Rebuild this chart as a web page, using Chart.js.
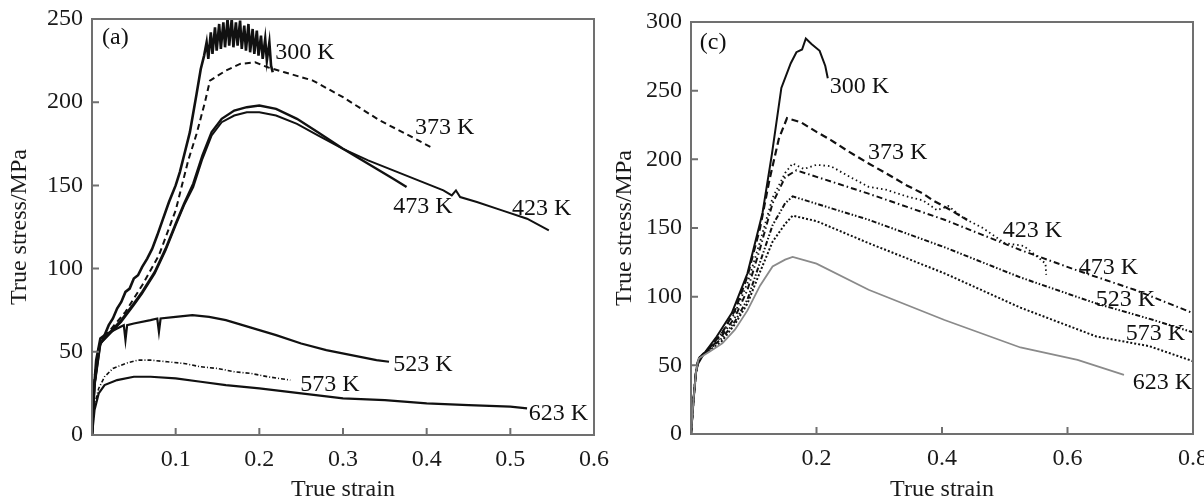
<!DOCTYPE html>
<html>
<head>
<meta charset="utf-8">
<script src="https://cdn.jsdelivr.net/npm/chart.js@4.4.1/dist/chart.umd.min.js"></script>
<style>
html,body{margin:0;padding:0;background:#fff;}
#wrap{position:relative;width:1204px;height:502px;overflow:hidden;}
canvas{position:absolute;top:0;}
</style>
</head>
<body>
<div id="wrap">
  <canvas id="chartA" width="640" height="502" style="left:0"></canvas>
  <canvas id="chartC" width="602" height="502" style="left:602px"></canvas>
</div>
<script>
// ---------- panel (a) ----------
const ticksAX=[0.1,0.2,0.3,0.4,0.5,0.6];
const ticksAY=[0,50,100,150,200,250];

// 300 K is a noisy band, typed as a zigzag
const strainA300=[0,0.002,0.005,0.01,0.015,0.02,0.025,0.03,0.035,0.04,0.045,0.05,0.055,0.06,0.066,0.072,0.078,0.085,0.092,0.1,0.105,0.11,0.117,0.125,0.13,0.134,
  0.137,0.139,0.142,0.144,0.147,0.149,0.152,0.154,0.157,0.159,0.162,0.164,0.167,0.169,0.172,0.174,0.177,0.179,0.182,0.184,0.187,0.189,0.192,0.194,0.197,0.199,0.202,0.204,0.207,0.209,0.212,0.214,0.216];
const stressA300=[0,25,45,58,60,66,70,76,80,86,88,94,96,101,106,112,120,130,140,150,158,168,182,205,220,228,
  236,226,242,229,245,231,247,232,248,233,250,234,250,233,248,234,249,232,246,231,247,230,244,229,243,228,240,226,238,225,236,222,218];

const strainA373=[0,0.003,0.01,0.02,0.04,0.06,0.08,0.1,0.115,0.125,0.135,0.141,0.16,0.177,0.195,0.21,0.23,0.264,0.3,0.344,0.375,0.405];
const stressA373=[0,35,56,62,74,90,108,135,165,181,200,213,219,223,224,221,218,213,203,189,181,173];

const strainA423=[0,0.003,0.01,0.02,0.035,0.05,0.06,0.075,0.088,0.1,0.11,0.121,0.132,0.143,0.155,0.17,0.185,0.2,0.22,0.245,0.27,0.3,0.33,0.36,0.39,0.42,0.43,0.435,0.44,0.46,0.49,0.52,0.546];
const stressA423=[0,30,55,60,68,78,85,97,111,126,138,149,166,180,188,192,194,194,192,187,180,172,165,159,153,147,144,147,143,140,135,130,123];

const strainA473=[0,0.003,0.01,0.02,0.035,0.05,0.06,0.075,0.088,0.1,0.11,0.121,0.132,0.143,0.155,0.17,0.185,0.2,0.22,0.245,0.27,0.3,0.32,0.34,0.36,0.376];
const stressA473=[0,30,55,61,69,79,86,98,112,127,139,151,168,182,190,195,197,198,196,190,182,172,166,160,154,149];

const strainA523=[0,0.003,0.008,0.015,0.03,0.038,0.04,0.042,0.05,0.07,0.078,0.08,0.082,0.1,0.12,0.14,0.16,0.18,0.2,0.22,0.25,0.28,0.31,0.34,0.355];
const stressA523=[0,30,52,60,64,66,57,66,67,69,70,62,70,71,72,71,69,66,63,60,55,51,48,45,44];

const strainA573=[0,0.003,0.008,0.015,0.025,0.04,0.055,0.07,0.09,0.11,0.13,0.15,0.17,0.19,0.21,0.237];
const stressA573=[0,18,28,35,40,43,45,45,44,43,41,40,38,37,35,33];

const strainA623=[0,0.003,0.008,0.015,0.03,0.05,0.07,0.1,0.13,0.16,0.2,0.25,0.3,0.35,0.4,0.45,0.5,0.52];
const stressA623=[0,15,25,30,33,35,35,34,32,30,28,25,22,21,19,18,17,16];

const labelTextA=["(a)","300 K","373 K","473 K","423 K","523 K","573 K","623 K"];
const labelXA=[0.012,0.219,0.386,0.36,0.502,0.36,0.249,0.522];
const labelYA=[239,230,184.5,137,136,42,30,13];

// ---------- panel (c) ----------
const ticksCX=[0.2,0.4,0.6,0.8];
const ticksCY=[0,50,100,150,200,250,300];

const strainC300=[0,0.004,0.008,0.011,0.02,0.041,0.065,0.09,0.114,0.129,0.144,0.159,0.168,0.177,0.183,0.192,0.205,0.214,0.218];
const stressC300=[0,25,45,51,58,71,88,117,161,204,252,270,278,280,288,284,279,268,259];

const strainC373=[0,0.004,0.008,0.012,0.03,0.05,0.07,0.09,0.11,0.125,0.14,0.153,0.175,0.2,0.223,0.25,0.283,0.31,0.344,0.37,0.386,0.41,0.44];
const stressC373=[0,25,45,55,63,74,90,115,150,185,215,230,227,220,214,206,197,190,181,175,170,164,156];

const strainC423=[0,0.004,0.008,0.012,0.03,0.05,0.07,0.09,0.11,0.13,0.15,0.162,0.18,0.2,0.223,0.25,0.283,0.31,0.344,0.37,0.392,0.41,0.435,0.465,0.5,0.53,0.555,0.565,0.566];
const stressC423=[0,25,45,55,63,74,88,110,140,172,190,197,193,196,195,188,180,178,173,170,163,166,157,150,139,137,128,124,116];

const strainC473=[0,0.004,0.008,0.012,0.03,0.05,0.07,0.09,0.11,0.13,0.15,0.168,0.283,0.404,0.525,0.616,0.707,0.8];
const stressC473=[0,25,45,55,62,72,85,105,135,168,187,192,175,156,134,119,105,88];

const strainC523=[0,0.004,0.008,0.012,0.03,0.05,0.07,0.09,0.11,0.13,0.15,0.162,0.283,0.404,0.525,0.646,0.737,0.8];
const stressC523=[0,25,45,55,62,70,82,98,125,152,168,173,156,136,114,95,83,74];

const strainC573=[0,0.004,0.008,0.012,0.03,0.05,0.07,0.09,0.11,0.13,0.15,0.162,0.2,0.283,0.404,0.525,0.646,0.73,0.8];
const stressC573=[0,25,45,55,61,68,80,95,118,140,153,159,155,139,117,92,71,64,53];

const strainC623=[0,0.004,0.008,0.012,0.03,0.05,0.07,0.09,0.11,0.13,0.15,0.162,0.2,0.283,0.404,0.525,0.616,0.69];
const stressC623=[0,25,45,55,60,66,76,90,108,122,127,129,124,105,83,63,54,43];

const labelTextC=["(c)","300 K","373 K","423 K","473 K","523 K","573 K","623 K"];
const labelXC=[0.014,0.221,0.282,0.497,0.618,0.645,0.693,0.704];
const labelYC=[285,252.7,205,148,121,98,73,37];

Chart.defaults.font.family='"Liberation Serif","Times New Roman",serif';
Chart.defaults.color='#1a1a1a';

function pts(xs,ys){ return xs.map((x,i)=>({x:x,y:ys[i]})); }
function line(xs,ys,opt){
  return Object.assign({data:pts(xs,ys),showLine:true,pointRadius:0,borderColor:'#111',borderWidth:2,tension:0,fill:false},opt||{});
}

// frame, inward ticks and curve labels
function framePlugin(texts,xs,ys){
  return {
    id:'frame',
    afterDatasetsDraw(chart){
      const {ctx,chartArea:a,scales:{x,y}}=chart;
      ctx.save();
      ctx.strokeStyle='#707070'; ctx.lineWidth=2;
      ctx.strokeRect(a.left,a.top,a.right-a.left,a.bottom-a.top);
      ctx.beginPath();
      x.ticks.forEach(t=>{const px=x.getPixelForValue(t.value); ctx.moveTo(px,a.bottom); ctx.lineTo(px,a.bottom-7);});
      y.ticks.forEach(t=>{const py=y.getPixelForValue(t.value); ctx.moveTo(a.left,py); ctx.lineTo(a.left+7,py);});
      ctx.stroke();
      ctx.fillStyle='#111'; ctx.font='24px "Liberation Serif"'; ctx.textBaseline='middle'; ctx.textAlign='left';
      texts.forEach((t,i)=>ctx.fillText(t,x.getPixelForValue(xs[i]),y.getPixelForValue(ys[i])));
      ctx.restore();
    }
  };
}

function makeOptions(xMax,yMax,tx,ty,pad,yW,xH,titlePad){
  return {
    responsive:false, animation:false,
    layout:{padding:pad},
    plugins:{legend:{display:false},tooltip:{enabled:false}},
    scales:{
      x:{type:'linear',min:0,max:xMax,
        grid:{display:false,drawTicks:false},border:{display:false},
        afterBuildTicks:s=>{s.ticks=tx.map(v=>({value:v}));},
        afterFit:s=>{s.height=xH;s.paddingLeft=0;s.paddingRight=0;},
        ticks:{padding:10,font:{size:24},color:'#1a1a1a',maxRotation:0,autoSkip:false,callback:v=>String(v)},
        title:{display:true,text:'True strain',font:{size:24,lineHeight:1},padding:{top:0,bottom:0},color:'#1a1a1a'}
      },
      y:{type:'linear',min:0,max:yMax,
        grid:{display:false,drawTicks:false},border:{display:false},
        afterBuildTicks:s=>{s.ticks=ty.map(v=>({value:v}));},
        afterFit:s=>{s.width=yW;s.paddingTop=0;s.paddingBottom=0;},
        ticks:{padding:9,font:{size:24},color:'#1a1a1a',autoSkip:false,callback:v=>String(v)},
        title:{display:true,text:'True stress/MPa',font:{size:24,lineHeight:1},padding:{top:titlePad,bottom:0},color:'#1a1a1a'}
      }
    }
  };
}

new Chart(document.getElementById('chartA'),{
  type:'scatter',
  data:{datasets:[
    line(strainA623,stressA623,{borderWidth:2.2}),
    line(strainA573,stressA573,{borderWidth:1.6,borderDash:[4,2,1,2]}),
    line(strainA523,stressA523,{borderWidth:2.2}),
    line(strainA473,stressA473,{borderWidth:2.4}),
    line(strainA423,stressA423,{borderWidth:2}),
    line(strainA373,stressA373,{borderWidth:2,borderDash:[6,4]}),
    line(strainA300,stressA300,{borderWidth:2.6})
  ]},
  options:makeOptions(0.6,250,ticksAX,ticksAY,{top:19,right:46,left:0,bottom:0},92,67,8),
  plugins:[framePlugin(labelTextA,labelXA,labelYA)]
});

new Chart(document.getElementById('chartC'),{
  type:'scatter',
  data:{datasets:[
    line(strainC623,stressC623,{borderColor:'#8a8a8a',borderWidth:1.8}),
    line(strainC573,stressC573,{borderWidth:2,borderDash:[2,2]}),
    line(strainC523,stressC523,{borderWidth:2,borderDash:[5,2,1.5,2,1.5,2]}),
    line(strainC473,stressC473,{borderWidth:2,borderDash:[6,3,1.5,3]}),
    line(strainC423,stressC423,{borderWidth:1.8,borderDash:[1.5,3]}),
    line(strainC373,stressC373,{borderWidth:2.2,borderDash:[7,4]}),
    line(strainC300,stressC300,{borderWidth:2})
  ]},
  options:makeOptions(0.8,300,ticksCX,ticksCY,{top:22,right:11,left:0,bottom:0},89,68,11),
  plugins:[framePlugin(labelTextC,labelXC,labelYC)]
});
</script>
</body>
</html>
